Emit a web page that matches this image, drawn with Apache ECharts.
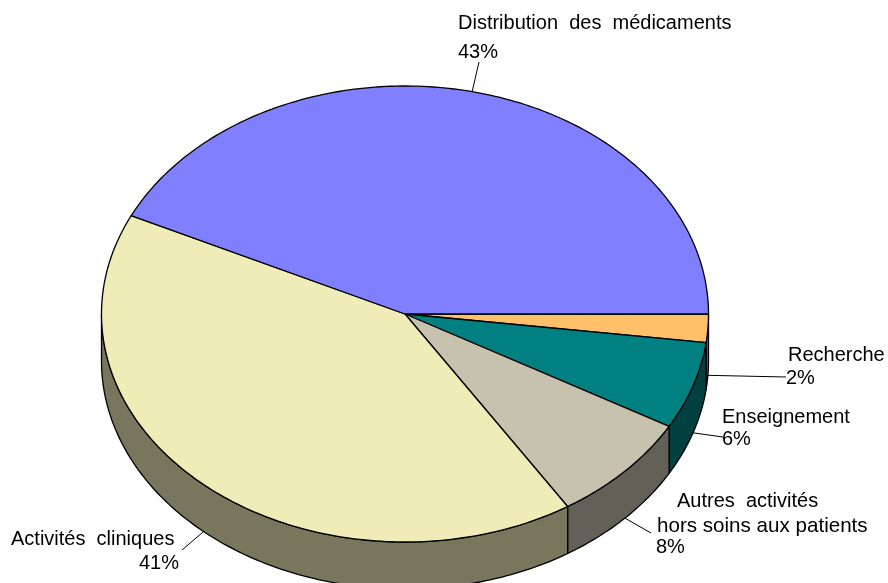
<!DOCTYPE html>
<html><head><meta charset="utf-8">
<style>html,body{margin:0;padding:0;background:#fff}#c{width:888px;height:583px}</style>
<script src="https://cdn.jsdelivr.net/npm/echarts@6/dist/echarts.min.js"></script>
</head><body><div id="c"></div>
<script>
// Slices in clockwise order from 3 o'clock
const categories = ['Recherche', 'Enseignement', 'Autres activités hors soins aux patients', 'Activités cliniques', 'Distribution des médicaments'];
const values = [2, 6.2, 7.8, 41.1, 42.9];
const topColors = ['#FFC069', '#008080', '#C6C2AE', '#F0ECB7', '#8080FF'];
const wallColors = ['#806035', '#004040', '#636157', '#78765C', '#404080'];
// Label layout: one entry per slice
const labelLines = [['Recherche'], ['Enseignement'], ['Autres activités', 'hors soins aux patients'], ['Activités cliniques'], ['Distribution des médicaments']];
const labelPos = [
  [[788, 355], [786, 378]],
  [[722, 417], [722, 439]],
  [[677, 501], [657, 526], [656, 547]],
  [[11, 539], [139, 563]],
  [[458, 23], [458, 52]]
];
const leaderEnds = [[786, 377], [723, 437], [651, 533], [182, 550], [479, 62]];

const CX = 405, CY = 314, RX = 303.5, RY = 228, DEPTH = 47;
const total = values.reduce((a, b) => a + b, 0);
function span(i) {
  let s = 0;
  for (let k = 0; k < i; k++) s += values[k];
  return [s / total * 2 * Math.PI, (s + values[i]) / total * 2 * Math.PI];
}
// a: clockwise angle from 3 o'clock; screen-down is positive
const pt = (a, dy) => [CX + RX * Math.cos(a), CY + RY * Math.sin(a) + (dy || 0)];
function arc(a0, a1, dy) {
  const n = Math.max(2, Math.ceil((a1 - a0) / (Math.PI / 180)));
  const out = [];
  for (let j = 0; j <= n; j++) out.push(pt(a0 + (a1 - a0) * j / n, dy));
  return out;
}
const line = { stroke: '#000', lineWidth: 1.3, lineJoin: 'round' };

function renderWall(params) {
  const [a0, a1] = span(params.dataIndex);
  const e = Math.min(a1, Math.PI);
  if (a0 >= Math.PI) return { type: 'group', children: [] };
  const pts = arc(a0, e, 0).concat(arc(a0, e, DEPTH).reverse());
  return { type: 'polygon', silent: true, shape: { points: pts },
    style: Object.assign({ fill: wallColors[params.dataIndex] }, line) };
}
function renderTop(params) {
  const [a0, a1] = span(params.dataIndex);
  const pts = [[CX, CY]].concat(arc(a0, a1, 0));
  return { type: 'polygon', silent: true, shape: { points: pts },
    style: Object.assign({ fill: topColors[params.dataIndex] }, line) };
}
function renderLabel(params) {
  const i = params.dataIndex;
  const [a0, a1] = span(i);
  const mid = (a0 + a1) / 2;
  const start = pt(mid, Math.sin(mid) > 0 ? DEPTH : 0);
  const texts = labelLines[i].concat([Math.round(values[i]) + '%']);
  const children = [{ type: 'line', silent: true,
    shape: { x1: start[0], y1: start[1], x2: leaderEnds[i][0], y2: leaderEnds[i][1] },
    style: { stroke: '#000', lineWidth: 1 } }];
  texts.forEach((t, k) => {
    const long = t.length > 20 && t.indexOf('hors') === 0;
    children.push({ type: 'text', silent: true,
      x: labelPos[i][k][0], y: labelPos[i][k][1],
      style: { text: long ? t : t.replace(/ /g, '  '), fill: '#000',
        font: (long ? '20.6px' : '20px') + ' "Liberation Sans", Arial, sans-serif', align: 'left', verticalAlign: 'middle' } });
  });
  return { type: 'group', children };
}
const chart = echarts.init(document.getElementById('c'), null, { renderer: 'canvas' });
chart.setOption({
  animation: false,
  backgroundColor: '#fff',
  series: [
    { type: 'custom', coordinateSystem: 'none', data: values, renderItem: renderWall, z: 1 },
    { type: 'custom', coordinateSystem: 'none', data: values, renderItem: renderTop, z: 2 },
    { type: 'custom', coordinateSystem: 'none', data: values, renderItem: renderLabel, z: 3 }
  ]
});
</script></body></html>
